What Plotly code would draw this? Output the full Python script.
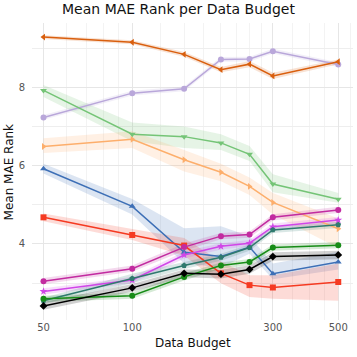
import plotly.graph_objects as go

budget = [50, 100, 150, 200, 250, 300, 500]

# mean rank per method
m_orange_dark = [9.28, 9.15, 8.84, 8.45, 8.59, 8.29, 8.65]
m_lavender = [7.23, 7.85, 7.96, 8.71, 8.72, 8.92, 8.58]
m_green_light = [7.92, 6.80, 6.74, 6.58, 6.29, 5.53, 5.14]
m_orange_light = [6.49, 6.67, 6.15, 5.83, 5.47, 5.06, 4.39]
m_blue = [5.92, 4.96, 3.79, 3.68, 3.92, 3.24, 3.54]
m_red = [4.68, 4.23, 3.96, 3.25, 2.95, 2.89, 3.03]
m_magenta = [3.05, 3.37, 3.92, 4.20, 4.24, 4.68, 4.87]
m_violet = [2.79, 3.08, 3.72, 3.94, 4.02, 4.44, 4.61]
m_teal = [2.55, 3.12, 3.45, 3.66, 3.91, 4.36, 4.49]
m_green_dark = [2.60, 2.68, 3.16, 3.45, 3.54, 3.91, 3.97]
m_black = [2.42, 2.88, 3.25, 3.23, 3.35, 3.68, 3.72]

# confidence band bounds
lo_orange_dark = [9.23, 9.10, 8.78, 8.38, 8.51, 8.21, 8.59]
hi_orange_dark = [9.33, 9.20, 8.90, 8.52, 8.67, 8.37, 8.71]
lo_lavender = [7.17, 7.79, 7.90, 8.65, 8.66, 8.86, 8.52]
hi_lavender = [7.29, 7.91, 8.02, 8.77, 8.78, 8.98, 8.64]
lo_green_light = [7.75, 6.62, 6.45, 6.40, 6.12, 5.32, 5.05]
hi_green_light = [8.06, 7.10, 7.00, 6.80, 6.50, 5.78, 5.30]
lo_orange_light = [6.32, 6.45, 5.85, 5.60, 5.25, 4.75, 3.90]
hi_orange_light = [6.70, 6.88, 6.40, 6.05, 5.70, 5.30, 4.65]
lo_blue = [5.80, 4.75, 3.50, 3.40, 3.75, 3.10, 3.35]
hi_blue = [6.05, 5.15, 4.40, 4.45, 4.20, 3.50, 3.80]
lo_red = [4.58, 4.10, 3.70, 3.00, 2.65, 2.60, 2.55]
hi_red = [4.78, 4.38, 4.15, 3.55, 3.20, 3.20, 3.50]
lo_magenta = [2.97, 3.29, 3.83, 4.12, 4.16, 4.60, 4.79]
hi_magenta = [3.13, 3.45, 4.01, 4.28, 4.32, 4.76, 4.95]
lo_violet = [2.71, 3.00, 3.63, 3.86, 3.94, 4.36, 4.53]
hi_violet = [2.87, 3.16, 3.81, 4.02, 4.10, 4.52, 4.69]
lo_teal = [2.47, 3.00, 3.36, 3.57, 3.83, 4.28, 4.41]
hi_teal = [2.63, 3.24, 3.54, 3.75, 3.99, 4.44, 4.57]
lo_green_dark = [2.52, 2.60, 3.07, 3.37, 3.46, 3.83, 3.89]
hi_green_dark = [2.68, 2.76, 3.25, 3.53, 3.62, 3.99, 4.05]
lo_black = [2.32, 2.78, 3.15, 3.12, 3.24, 3.57, 3.61]
hi_black = [2.52, 2.98, 3.35, 3.34, 3.46, 3.79, 3.83]

series = [
    (m_lavender, lo_lavender, hi_lavender, '#b9a7da', 'circle'),
    (m_orange_dark, lo_orange_dark, hi_orange_dark, '#d95f0e', 'triangle-left'),
    (m_green_light, lo_green_light, hi_green_light, '#74c476', 'triangle-down'),
    (m_orange_light, lo_orange_light, hi_orange_light, '#fdae6b', 'triangle-right'),
    (m_blue, lo_blue, hi_blue, '#3d6fb6', 'triangle-up'),
    (m_red, lo_red, hi_red, '#f53a22', 'square'),
    (m_magenta, lo_magenta, hi_magenta, '#c22ba0', 'circle'),
    (m_violet, lo_violet, hi_violet, '#d046e8', 'star'),
    (m_teal, lo_teal, hi_teal, '#2f7a6e', 'pentagon'),
    (m_green_dark, lo_green_dark, hi_green_dark, '#178c17', 'circle'),
    (m_black, lo_black, hi_black, '#000000', 'diamond'),
]


def rgba(hex_color, a):
    h = hex_color.lstrip('#')
    r, g, b = int(h[0:2], 16), int(h[2:4], 16), int(h[4:6], 16)
    return f'rgba({r},{g},{b},{a})'


fig = go.Figure()
for mean, lo, hi, color, symbol in series:
    fig.add_trace(go.Scatter(x=budget + budget[::-1],
                             y=hi + lo[::-1],
                             mode='lines',
                             fill='toself',
                             fillcolor=rgba(color, 0.18),
                             line=dict(width=0),
                             hoverinfo='skip',
                             showlegend=False))
for mean, lo, hi, color, symbol in series:
    fig.add_trace(go.Scatter(x=budget, y=mean,
                             mode='lines+markers',
                             line=dict(color=color, width=1.5),
                             marker=dict(symbol=symbol, size=6, color=color),
                             showlegend=False))

fig.update_layout(width=357, height=357,
                  margin=dict(l=32, r=4, t=23, b=37),
                  plot_bgcolor='white',
                  paper_bgcolor='white',
                  font=dict(family='DejaVu Sans', color='#555555', size=10),
                  title=dict(text='Mean MAE Rank per Data Budget',
                             x=0.5, xanchor='center', y=0.987, yanchor='top',
                             font=dict(size=14, color='#111111')))

# axis titles as annotations so the margins stay fixed
fig.add_annotation(text='Data Budget', xref='paper', yref='paper',
                   x=0.5, y=-0.077, xanchor='center', yanchor='middle',
                   showarrow=False, font=dict(size=12, color='#111111'))
fig.add_annotation(text='Mean MAE Rank', xref='paper', yref='paper',
                   x=-0.072, y=0.5, xanchor='center', yanchor='middle', textangle=-90,
                   showarrow=False, font=dict(size=12, color='#111111'))

fig.update_xaxes(type='log', range=[1.66, 2.749], automargin=False,
                 tickvals=[50, 100, 300, 500],
                 ticktext=['50', '100', '300', '500'],
                 showgrid=True, gridcolor='#e6e6e6', gridwidth=1,
                 zeroline=False, showline=False, ticks='',
                 minor=dict(showgrid=True, gridcolor='#f3f3f3', gridwidth=1,
                            tickvals=[60, 70, 80, 90, 125, 150, 175, 200, 225, 250, 275,
                                      350, 400, 450, 550]))
fig.update_yaxes(range=[2.06, 9.64], automargin=False,
                 tick0=0, dtick=2, ticklabelstandoff=6,
                 showgrid=True, gridcolor='#e6e6e6', gridwidth=1,
                 zeroline=False, showline=False, ticks='',
                 minor=dict(showgrid=True, gridcolor='#eeeeee', dtick=1, tick0=0))

# drop the default page margin so the 357px figure fills the window
fig.write_html('out.html', config={'displayModeBar': False},
               post_script="document.body.style.margin='0';")
